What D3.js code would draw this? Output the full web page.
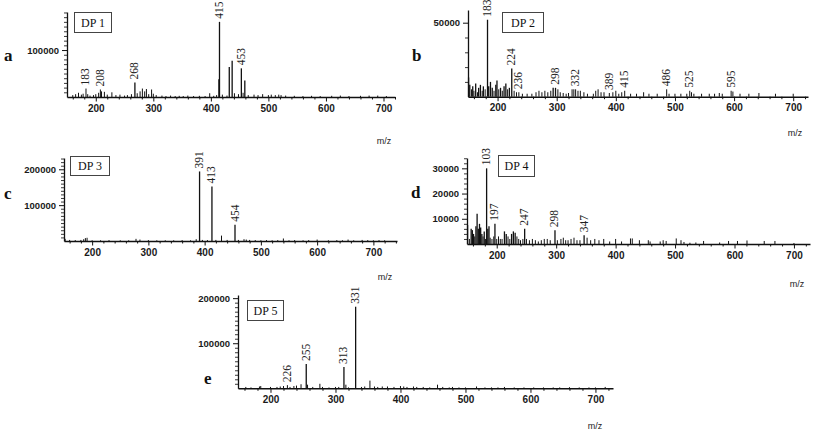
<!DOCTYPE html>
<html><head><meta charset="utf-8">
<script src="https://cdn.jsdelivr.net/npm/d3@7"></script>
<style>body{margin:0;background:#fff}svg{display:block}</style>
</head><body><svg id="c" width="813" height="432"></svg>
<script>
// ---------- DATA ----------
const xTickValues = [200, 300, 400, 500, 600, 700];

const spectrumA = [[160,4000],[165,6000],[170,9000],[175,5000],[178,7000],[183,18000],[186,6000],[190,3000],[196,4000],[200,6000],[205,9000],[208,16000],[210,12000],[215,11000],[220,5000],[228,10000],[235,4000],[242,5000],[250,3000],[255,4000],[262,6000],[268,31000],[272,8000],[277,12000],[281,18000],[285,12000],[288,17000],[292,6000],[297,16000],[300,7000],[305,4000],[315,3000],[322,2000],[330,3000],[338,2000],[345,2500],[352,2000],[360,3000],[370,2000],[380,2500],[390,2000],[398,8000],[405,2500],[410,4000],[414,38000],[415,160000],[420,5000],[428,3000],[432,64000],[437,77000],[441,8000],[448,6000],[453,61000],[456,9000],[459,35000],[465,4000],[475,5000],[482,4000],[490,6000],[500,4000],[505,5000],[512,4000],[518,5000],[522,4000],[530,3000],[545,2500],[560,2000],[575,2500],[590,2000],[610,2500],[625,3000],[640,2000],[660,2500],[675,3000],[690,3000],[705,2000]];
const labelsA = [[183,"183"],[208,"208"],[268,"268"],[415,"415"],[453,"453"]];
const yTicksA = [100000];

const spectrumB = [[151,13000],[153,8000],[156,5000],[158,7000],[160,4000],[163,9000],[166,3000],[168,6000],[171,8000],[174,4000],[176,7000],[179,5000],[183,52000],[185,7000],[188,10000],[191,6000],[194,4000],[197,8000],[199,11000],[202,5000],[205,6000],[208,4000],[211,7000],[214,9000],[217,5000],[220,6000],[224,19000],[228,4000],[232,3000],[236,3000],[242,2000],[250,2000],[258,2000],[265,3000],[270,4000],[275,3000],[280,4000],[285,3000],[290,4000],[294,6000],[298,6000],[302,5000],[306,3000],[311,2500],[316,2000],[320,2500],[326,5000],[329,5000],[332,5000],[336,4000],[340,4000],[346,3000],[352,2000],[362,2000],[366,4000],[370,5000],[375,3000],[380,3000],[389,2500],[395,3000],[400,4000],[405,2000],[410,3000],[415,4000],[425,2000],[435,2000],[447,3000],[456,2000],[470,2000],[486,5000],[490,2000],[500,2000],[510,2000],[520,2000],[525,4000],[528,3000],[532,2000],[545,2000],[558,2000],[567,2000],[575,2500],[580,2000],[595,4000],[598,3500],[610,2000],[625,2000],[642,2500],[670,2000],[700,2000]];
const labelsB = [[183,"183"],[224,"224"],[236,"236"],[298,"298"],[332,"332"],[389,"389"],[415,"415"],[486,"486"],[525,"525"],[595,"595"]];
const yTicksB = [50000];

const spectrumC = [[152,6000],[160,3000],[170,2500],[180,3000],[185,5000],[188,8000],[191,9000],[200,2000],[215,2000],[230,2500],[250,2000],[265,2000],[278,6000],[285,4000],[300,2500],[315,2000],[330,2000],[345,2000],[360,2500],[375,2000],[385,5000],[391,194000],[396,3000],[405,2500],[413,152000],[420,3000],[430,15000],[440,3000],[454,45000],[460,3000],[470,5000],[474,4000],[480,3000],[490,2500],[500,2000],[510,2500],[520,2000],[530,2500],[540,7000],[550,2000],[560,2500],[575,2000],[585,2500],[600,4000],[620,2000],[635,2500],[645,2000],[655,4000],[665,2000],[680,3000],[690,2500],[700,2000],[710,2500],[720,2000]];
const labelsC = [[391,"391"],[413,"413"],[454,"454"]];
const yTicksC = [100000, 200000];

const spectrumD = [[151,7500],[154,2000],[157,6000],[159,5500],[161,4000],[163,3000],[165,7000],[167,12000],[169,6000],[171,8000],[173,6500],[175,4000],[177,3000],[179,5000],[181,2000],[183,30000],[185,6000],[187,7000],[189,2500],[192,2000],[195,3000],[197,8000],[200,2000],[203,3000],[206,2000],[209,2000],[213,5000],[216,4000],[219,3000],[222,2000],[225,4000],[228,5000],[231,4500],[234,3000],[237,2000],[240,1500],[244,2000],[247,6000],[250,2000],[255,1500],[260,2000],[265,1500],[270,1000],[275,1500],[280,2000],[285,2000],[290,1500],[298,5500],[302,1500],[308,2000],[312,2500],[316,1500],[320,1500],[325,2000],[330,2500],[335,1500],[340,1500],[347,3500],[352,2500],[358,1500],[365,2000],[372,1500],[380,2000],[390,1000],[400,2000],[410,1000],[425,2200],[428,2200],[440,1500],[455,1500],[458,1000],[475,1000],[480,1500],[485,1200],[502,2200],[510,1500],[515,800],[525,500],[535,600],[548,1200],[575,600],[590,1200],[605,1200],[621,1400],[650,1200],[668,1200],[700,400]];
const labelsD = [[183,"103"],[197,"197"],[247,"247"],[298,"298"],[347,"347"]];
const yTicksD = [10000, 20000, 30000];

const spectrumE = [[162,3000],[170,2000],[183,4000],[185,5000],[200,3000],[210,3000],[215,4000],[220,5000],[226,7000],[230,3000],[236,5000],[240,6000],[247,9000],[255,54000],[257,8000],[265,3000],[276,10000],[280,3000],[290,2000],[300,3000],[305,3000],[313,47000],[316,8000],[320,2000],[331,181000],[340,3000],[345,4000],[353,17000],[360,4000],[365,3000],[372,4000],[380,4000],[390,3000],[400,5000],[405,4000],[410,3000],[420,4000],[425,3000],[435,3000],[445,2000],[457,8000],[465,3000],[475,2000],[480,3000],[490,2000],[500,2000],[517,4000],[530,2000],[540,2000],[550,2000],[560,3000],[575,2000],[590,2000],[605,2000],[620,2000],[635,2000],[645,2000],[660,2500],[675,2000],[690,2000],[700,2000],[715,3000]];
const labelsE = [[226,"226"],[255,"255"],[313,"313"],[331,"331"]];
const yTicksE = [100000, 200000];

// ---------- LAYOUT ----------
const panels = [
  {letter:"a", title:"DP 1", data:spectrumA, labels:labelsA, yTicks:yTicksA, minor:10000, xMax:720, yMax:181000,
   left:67, right:395, base:97, top:12, box:[74,12,37,20], let:[4,61], mz:[384,144]},
  {letter:"b", title:"DP 2", data:spectrumB, labels:labelsB, yTicks:yTicksB, minor:10000, xMax:725, yMax:58580,
   left:468, right:808, base:96.7, top:10, box:[502,12,41,20], let:[412,61], mz:[795,136]},
  {letter:"c", title:"DP 3", data:spectrumC, labels:labelsC, yTicks:yTicksC, minor:10000, xMax:742, yMax:231500,
   left:64, right:397, base:241, top:158, box:[70,156,39,19], let:[4,199], mz:[385,280]},
  {letter:"d", title:"DP 4", data:spectrumD, labels:labelsD, yTicks:yTicksD, minor:2000, xMax:727, yMax:34100,
   left:467, right:810, base:244, top:158, box:[498,155,36,21], let:[411,198], mz:[797,287]},
  {letter:"e", title:"DP 5", data:spectrumE, labels:labelsE, yTicks:yTicksE, minor:10000, xMax:727, yMax:207000,
   left:238, right:613, base:388.3, top:295, box:[247,300,36,20], let:[204,384], mz:[595,429]}
];

const svg = d3.select("#c");
const sans = "'Liberation Sans', Arial, sans-serif";
const serif = "'Liberation Serif', 'Times New Roman', serif";

panels.forEach(p => {
  const g = svg.append("g");
  const x = d3.scaleLinear().domain([150, p.xMax]).range([p.left, p.right]);
  const y = d3.scaleLinear().domain([0, p.yMax]).range([p.base, p.top]);

  // bars
  g.append("g").selectAll("line").data(p.data).join("line")
    .attr("x1", d => x(d[0])).attr("x2", d => x(d[0]))
    .attr("y1", y(0)).attr("y2", d => y(d[1]))
    .attr("stroke", "#111").attr("stroke-width", d => d[1] > p.yMax * 0.1 ? 1.3 : 1);

  // x axis minor
  const minorX = d3.range(160, p.xMax + 1, 20).filter(v => v % 100 !== 0);
  g.append("g").attr("transform", `translate(0,${p.base})`)
    .call(d3.axisBottom(x).tickValues(minorX).tickSize(2.5).tickFormat("").tickSizeOuter(0))
    .call(a => a.select(".domain").remove())
    .call(a => a.selectAll("line").attr("stroke", "#111").attr("stroke-width", 1));
  // x axis major
  g.append("g").attr("transform", `translate(0,${p.base})`)
    .call(d3.axisBottom(x).tickValues(xTickValues).tickSize(4.5).tickPadding(3).tickSizeOuter(0))
    .call(a => a.select(".domain").attr("stroke", "#111").attr("stroke-width", 1.6))
    .call(a => a.selectAll("line").attr("stroke", "#111"))
    .call(a => a.selectAll("text").attr("font-family", sans).attr("font-size", 10).attr("font-weight", "bold").attr("fill", "#1a1a1a"));

  // y axis minor
  const minorY = d3.range(p.minor, p.yMax, p.minor).filter(v => !p.yTicks.includes(v));
  g.append("g").attr("transform", `translate(${p.left},0)`)
    .call(d3.axisLeft(y).tickValues(minorY).tickSize(3).tickFormat("").tickSizeOuter(0))
    .call(a => a.select(".domain").remove())
    .call(a => a.selectAll("line").attr("stroke", "#222").attr("stroke-width", 0.9));
  // y axis major
  g.append("g").attr("transform", `translate(${p.left},0)`)
    .call(d3.axisLeft(y).tickValues(p.yTicks).tickSize(5).tickPadding(3).tickFormat(d3.format("d")).tickSizeOuter(0))
    .call(a => a.select(".domain").attr("stroke", "#111").attr("stroke-width", 1.3))
    .call(a => a.selectAll("line").attr("stroke", "#111"))
    .call(a => a.selectAll("text").attr("font-family", sans).attr("font-size", 9.5).attr("font-weight", "bold").attr("fill", "#1a1a1a"));

  // peak labels
  const lookup = new Map(p.data);
  g.append("g").selectAll("text").data(p.labels).join("text")
    .attr("transform", d => `translate(${x(d[0]) + 3.5},${y(lookup.get(d[0])) - 3}) rotate(-90)`)
    .attr("font-family", serif).attr("font-size", 11.5).attr("fill", "#222")
    .text(d => d[1]);

  // DP box
  g.append("rect").attr("x", p.box[0] + 0.5).attr("y", p.box[1] + 0.5)
    .attr("width", p.box[2]).attr("height", p.box[3])
    .attr("fill", "#fff").attr("stroke", "#444").attr("stroke-width", 1);
  g.append("text").attr("x", p.box[0] + p.box[2] / 2 + 0.5).attr("y", p.box[1] + p.box[3] / 2 + 4.5)
    .attr("text-anchor", "middle").attr("font-family", serif).attr("font-size", 12).attr("fill", "#111")
    .text(p.title);

  // panel letter
  g.append("text").attr("x", p.let[0]).attr("y", p.let[1])
    .attr("font-family", serif).attr("font-weight", "bold").attr("font-size", 17).attr("fill", "#111")
    .text(p.letter);

  // m/z
  g.append("text").attr("x", p.mz[0]).attr("y", p.mz[1]).attr("text-anchor", "middle")
    .attr("font-family", sans).attr("font-size", 9).attr("fill", "#222").text("m/z");
});
</script></body></html>
